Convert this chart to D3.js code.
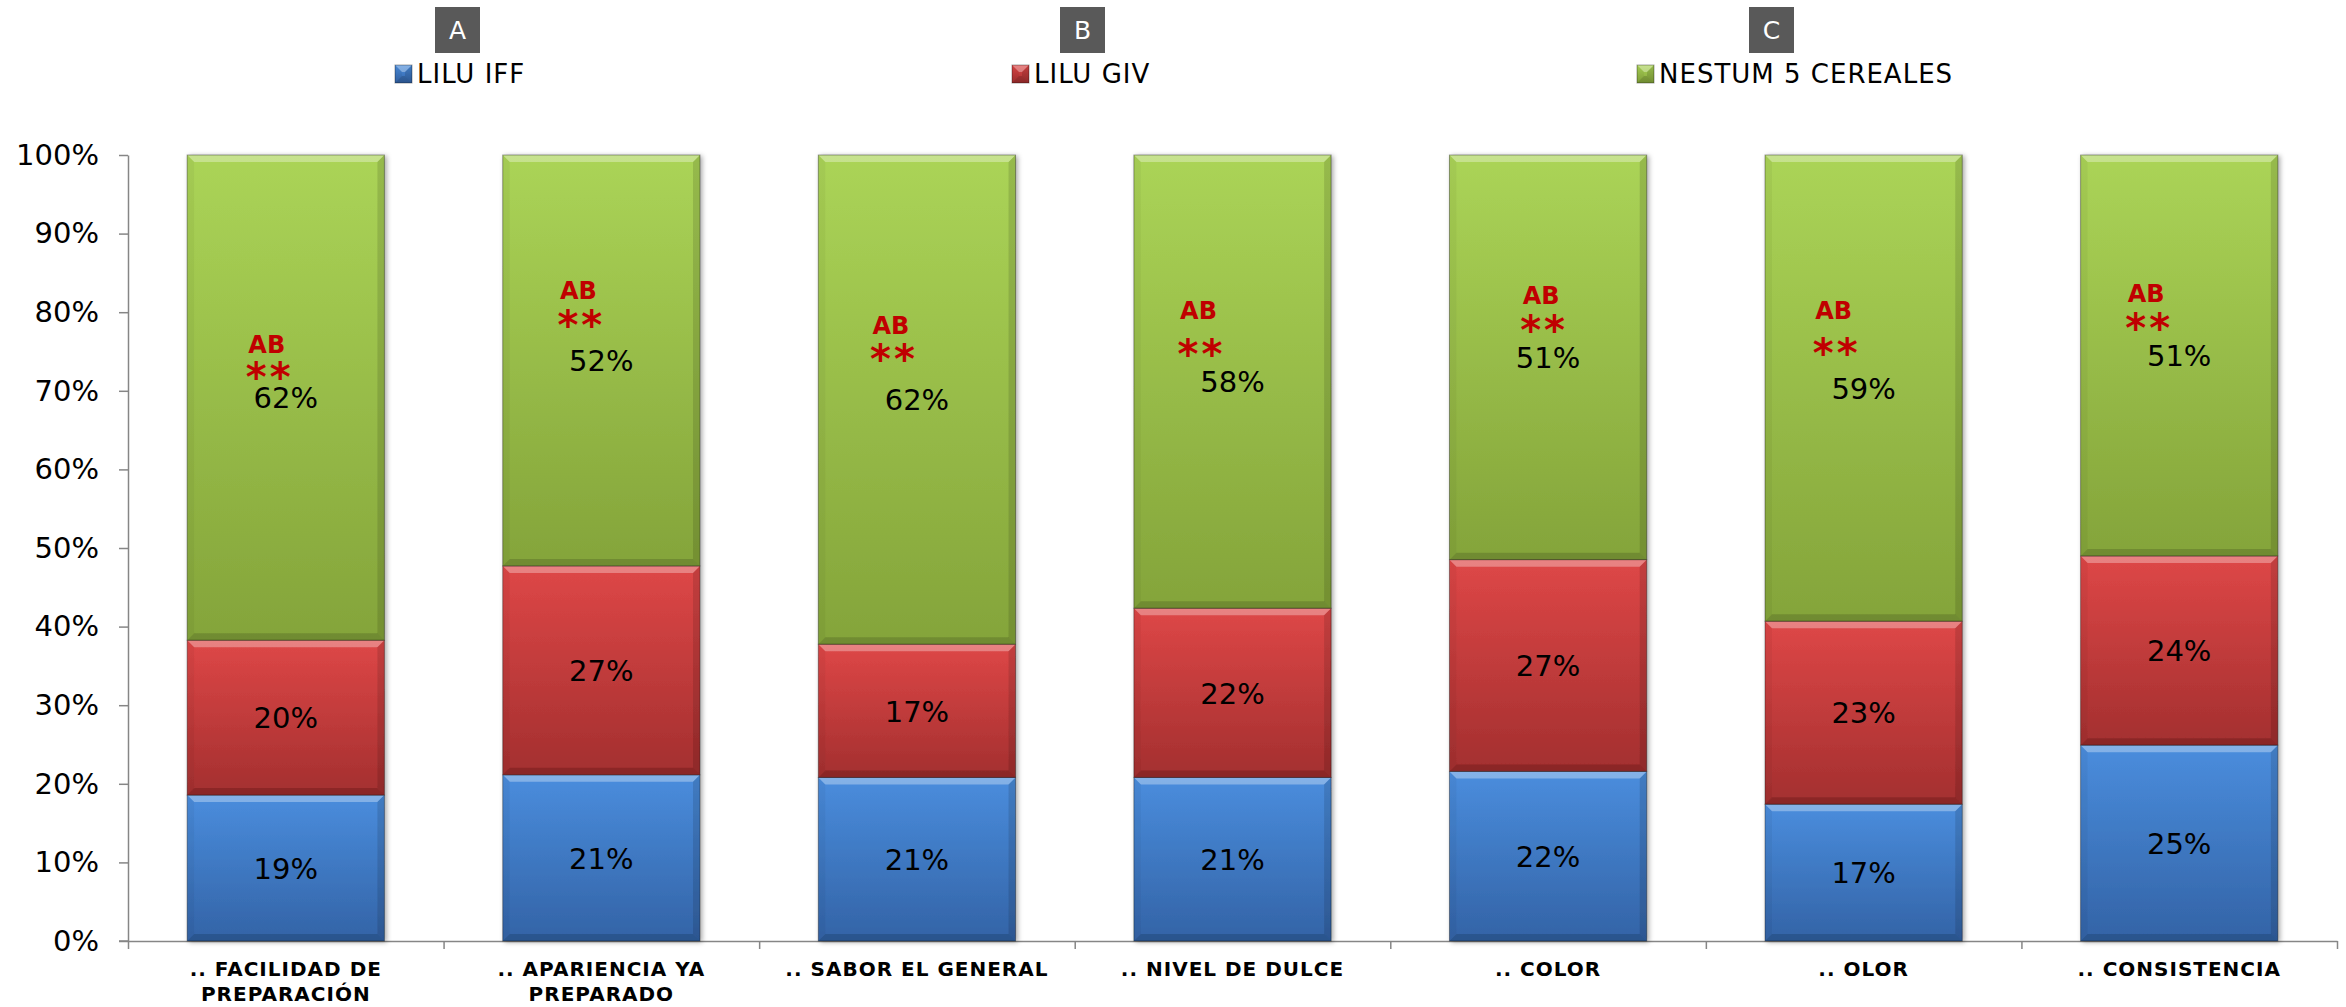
<!DOCTYPE html>
<html>
<head>
<meta charset="utf-8">
<script src="https://cdn.jsdelivr.net/npm/d3@7"></script>
<style>
  html, body { margin: 0; padding: 0; background: #ffffff; }
  svg { display: block; font-family: "DejaVu Sans", Verdana, sans-serif; }
</style>
</head>
<body>
<svg id="chart" width="2346" height="1007"></svg>
<script>
// ---------- DATA ----------
const categories = [".. FACILIDAD DE PREPARACIÓN", ".. APARIENCIA YA PREPARADO", ".. SABOR EL GENERAL", ".. NIVEL DE DULCE", ".. COLOR", ".. OLOR", ".. CONSISTENCIA"];
const seriesNames = ["LILU IFF", "LILU GIV", "NESTUM 5 CEREALES"];
const liluIff = [0.1856, 0.2114, 0.2081, 0.2081, 0.2158, 0.1740, 0.2492];
const liluGiv = [0.1971, 0.2658, 0.1695, 0.2153, 0.2694, 0.2329, 0.2407];
const nestum  = [0.6173, 0.5228, 0.6224, 0.5766, 0.5148, 0.5931, 0.5101];
const yTicks = [0, 0.1, 0.2, 0.3, 0.4, 0.5, 0.6, 0.7, 0.8, 0.9, 1.0];
const groupLetters = ["A", "B", "C"];
const significance = ["AB", "AB", "AB", "AB", "AB", "AB", "AB"];
const significanceStars = ["**", "**", "**", "**", "**", "**", "**"];

// ---------- LAYOUT ----------
const plot = { left: 128, right: 2337, top: 155, bottom: 941 };
const annotationLayout = [
  { dx: -19, ab: -45, star: -21 },
  { dx: -23, ab: -61, star: -35 },
  { dx: -26, ab: -66, star: -41 },
  { dx: -34, ab: -63, star: -28 },
  { dx: -7,  ab: -53, star: -27 },
  { dx: -30, ab: -69, star: -35 },
  { dx: -33, ab: -53, star: -27 }
];
const legendX = [395, 1012, 1637];
const letterBoxX = [435, 1060, 1749];
const axisColor = "#868686";
const colors = [
  { top: "#4a8ddd", bottom: "#3363a6" },
  { top: "#de4747", bottom: "#a32f2f" },
  { top: "#abd457", bottom: "#84a43a" }
];

const svg = d3.select("#chart");
const defs = svg.append("defs");
colors.forEach((c, i) => {
  const g = defs.append("linearGradient").attr("id", "grad" + i)
    .attr("x1", 0).attr("y1", 0).attr("x2", 0).attr("y2", 1);
  g.append("stop").attr("offset", "0%").attr("stop-color", c.top);
  g.append("stop").attr("offset", "100%").attr("stop-color", c.bottom);
});
const f = defs.append("filter").attr("id", "shadow").attr("x", "-10%").attr("y", "-5%").attr("width", "130%").attr("height", "115%");
f.append("feDropShadow").attr("dx", 2).attr("dy", 1).attr("stdDeviation", 2.5).attr("flood-color", "#000").attr("flood-opacity", 0.35);

// stack
const table = categories.map((c, i) => ({ cat: c, s0: liluIff[i], s1: liluGiv[i], s2: nestum[i] }));
const stack = d3.stack().keys(["s0", "s1", "s2"])(table);

const x = d3.scaleBand().domain(categories).range([plot.left, plot.right])
  .paddingInner(0.375).paddingOuter(0.1875);
const y = d3.scaleLinear().domain([0, 1]).range([plot.bottom, plot.top]);

// ---------- AXES ----------
const yAxis = d3.axisLeft(y).tickValues(yTicks).tickFormat(d3.format(".0%"))
  .tickSize(9).tickSizeOuter(0).tickPadding(20);
const gy = svg.append("g").attr("transform", `translate(${plot.left},0)`).call(yAxis);
gy.select(".domain").attr("stroke", axisColor).attr("stroke-width", 1.5);
gy.selectAll(".tick line").attr("stroke", axisColor).attr("stroke-width", 1.5);
gy.selectAll(".tick text").attr("font-size", 29).attr("fill", "#000")
  .attr("font-family", "DejaVu Sans, Verdana, sans-serif");

// x-axis line and boundary ticks
const xb = d3.scaleLinear().domain([0, categories.length]).range([plot.left, plot.right]);
const xAxisTicks = d3.axisBottom(xb).tickValues(d3.range(0, categories.length + 1))
  .tickSize(8).tickSizeOuter(0).tickFormat("");
const gxt = svg.append("g").attr("transform", `translate(0,${plot.bottom})`).call(xAxisTicks);
gxt.select(".domain").attr("stroke", axisColor).attr("stroke-width", 1.5);
gxt.selectAll(".tick line").attr("stroke", axisColor).attr("stroke-width", 1.5);
svg.append("line").attr("x1", plot.left - 9).attr("x2", plot.left).attr("y1", plot.bottom).attr("y2", plot.bottom)
  .attr("stroke", axisColor).attr("stroke-width", 1.5);

// category labels
const xAxis = d3.axisBottom(x).tickSize(0).tickPadding(0);
const gx = svg.append("g").attr("transform", `translate(0,${plot.bottom})`).call(xAxis);
gx.select(".domain").remove();
gx.selectAll(".tick text").each(function (d) {
  const t = d3.select(this);
  t.text(null).attr("y", 0).attr("dy", null)
    .attr("font-size", 20).attr("font-weight", "bold").attr("fill", "#000")
    .attr("letter-spacing", 1)
    .attr("font-family", "DejaVu Sans, Verdana, sans-serif");
  const words = d.split(" ");
  let lines = [], cur = [];
  const probe = t.append("tspan");
  words.forEach(w => {
    const test = cur.concat([w]).join(" ");
    probe.text(test);
    if (probe.node().getComputedTextLength() > 290 && cur.length) {
      lines.push(cur.join(" ")); cur = [w];
    } else cur.push(w);
  });
  lines.push(cur.join(" "));
  probe.remove();
  lines.forEach((ln, k) => {
    t.append("tspan").attr("x", 0).attr("y", 35 + k * 25).text(ln);
  });
});

// ---------- BARS ----------
function bevelRect(g, x0, y0, w, h, gi) {
  const b = Math.min(7, h / 2);
  const grp = g.append("g");
  grp.append("rect").attr("x", x0).attr("y", y0).attr("width", w).attr("height", h)
    .attr("fill", `url(#grad${gi})`);
  const poly = (pts, fill, op) => grp.append("polygon")
    .attr("points", pts.map(p => p.join(",")).join(" ")).attr("fill", fill).attr("opacity", op);
  poly([[x0, y0], [x0 + w, y0], [x0 + w - b, y0 + b], [x0 + b, y0 + b]], "#ffffff", 0.32);
  poly([[x0, y0 + h], [x0 + w, y0 + h], [x0 + w - b, y0 + h - b], [x0 + b, y0 + h - b]], "#000000", 0.15);
  poly([[x0, y0], [x0 + b, y0 + b], [x0 + b, y0 + h - b], [x0, y0 + h]], "#000000", 0.04);
  poly([[x0 + w, y0], [x0 + w - b, y0 + b], [x0 + w - b, y0 + h - b], [x0 + w, y0 + h]], "#000000", 0.12);
  grp.append("rect").attr("x", x0).attr("y", y0).attr("width", w).attr("height", h)
    .attr("fill", "none").attr("stroke", "#000").attr("stroke-opacity", 0.35).attr("stroke-width", 1);
}

const barsG = svg.append("g");
categories.forEach((c, i) => {
  const bg = barsG.append("g").attr("filter", "url(#shadow)");
  stack.forEach((s, si) => {
    const d = s[i];
    const y0 = y(d[1]), y1 = y(d[0]);
    bevelRect(bg, x(c), y0, x.bandwidth(), y1 - y0, si);
  });
});

// ---------- DATA LABELS ----------
const fmt = d3.format(".0%");
const labelsG = svg.append("g").attr("font-size", 29).attr("fill", "#000").attr("text-anchor", "middle");
stack.forEach((s, si) => {
  s.forEach((d, i) => {
    labelsG.append("text")
      .attr("x", x(categories[i]) + x.bandwidth() / 2)
      .attr("y", y((d[0] + d[1]) / 2))
      .attr("dy", "0.37em")
      .text(fmt(d[1] - d[0]));
  });
});

// significance annotations (anchored to top-series label)
const annG = svg.append("g").attr("fill", "#c00000").attr("font-weight", "bold").attr("text-anchor", "middle");
stack[2].forEach((d, i) => {
  const cx = x(categories[i]) + x.bandwidth() / 2;
  const cy = y((d[0] + d[1]) / 2);
  const L = annotationLayout[i];
  annG.append("text").attr("x", cx + L.dx).attr("y", cy + L.ab).attr("font-size", 24).text(significance[i]);
  annG.append("text").attr("x", cx + L.dx + 3).attr("y", cy + L.star + 14).attr("font-size", 40)
    .attr("letter-spacing", 3).text(significanceStars[i]);
});

// ---------- LEGEND ----------
const legG = svg.append("g");
seriesNames.forEach((n, i) => {
  legG.append("rect").attr("x", letterBoxX[i]).attr("y", 7).attr("width", 45).attr("height", 46).attr("fill", "#595959");
  legG.append("text").attr("x", letterBoxX[i] + 22.5).attr("y", 39).attr("text-anchor", "middle")
    .attr("font-size", 25).attr("fill", "#fff").text(groupLetters[i]);
  const mk = legG.append("g");
  bevelRect(mk, legendX[i], 65, 17, 18, i);
  legG.append("text").attr("x", legendX[i] + 22).attr("y", 83).attr("font-size", 26)
    .attr("letter-spacing", 1).attr("fill", "#000").text(n);
});
</script>
</body>
</html>
